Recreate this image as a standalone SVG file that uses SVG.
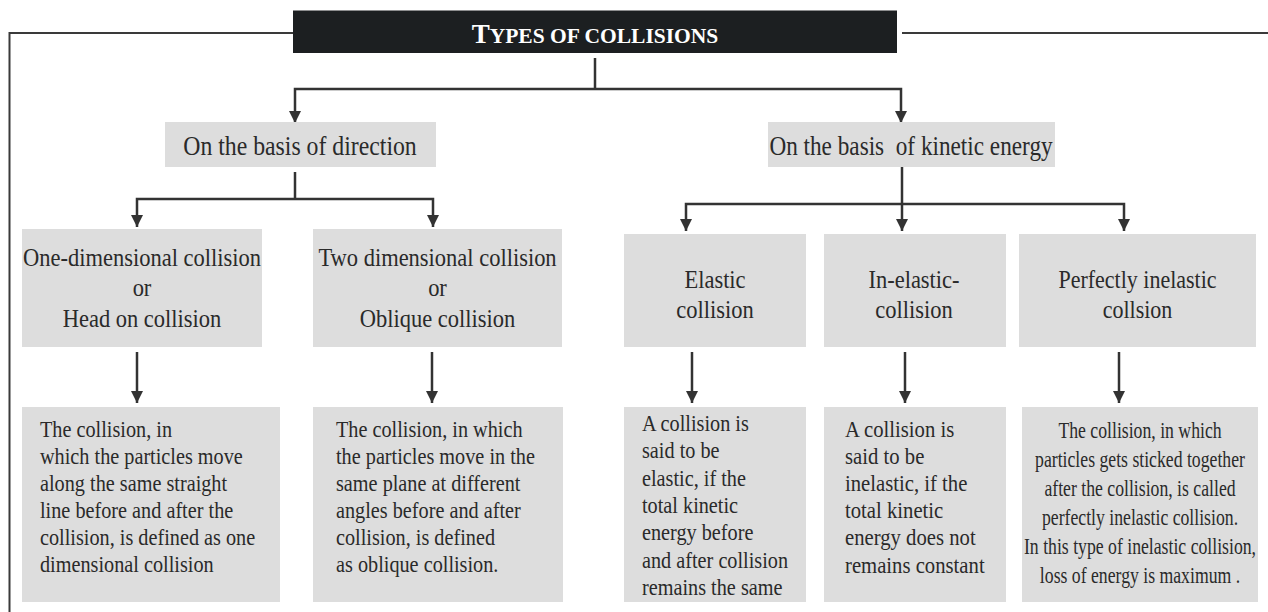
<svg xmlns="http://www.w3.org/2000/svg" width="1268" height="612" viewBox="0 0 1268 612">
  <style>
    .box { fill: #dddddd; }
    .title-box { fill: #1c1f21; }
    .ln { fill: none; stroke: #333333; stroke-width: 2.5; }
    .frame { fill: none; stroke: #3a3a3a; stroke-width: 2; }
    .t { font-family: "Liberation Serif", "Times New Roman", serif; fill: #2a2a2a; }
    .hd { font-size: 27px; }
    .sub { font-size: 25px; }
    .body { font-size: 23px; }
    .mid { text-anchor: middle; }
    .title { font-family: "Liberation Serif", "Times New Roman", serif; font-weight: bold; fill: #ffffff; }
  </style>
  <defs>
    <marker id="ah" viewBox="0 0 12 12" refX="12" refY="6" markerWidth="12" markerHeight="12" markerUnits="userSpaceOnUse" orient="auto">
      <path d="M0,0 L12,6 L0,12 z" fill="#333333"/>
    </marker>
  </defs>

  <!-- connectors -->
  <g id="connectors">
    <!-- outer frame lines from the title -->
    <path class="frame" d="M293,33 H9.5 V612"/>
    <path class="frame" d="M902,33 H1268"/>
    <!-- title to the two bases -->
    <path class="ln" d="M595,58 V89"/>
    <path class="ln" d="M595,89 H295 V123" marker-end="url(#ah)"/>
    <path class="ln" d="M595,89 H901 V123" marker-end="url(#ah)"/>
    <!-- direction branch -->
    <path class="ln" d="M295,172 V199"/>
    <path class="ln" d="M295,199 H137 V227" marker-end="url(#ah)"/>
    <path class="ln" d="M295,199 H433 V227" marker-end="url(#ah)"/>
    <!-- kinetic energy branch -->
    <path class="ln" d="M902,163 V231" marker-end="url(#ah)"/>
    <path class="ln" d="M902,204 H686 V231" marker-end="url(#ah)"/>
    <path class="ln" d="M902,204 H1124 V231" marker-end="url(#ah)"/>
    <!-- types to definitions -->
    <path class="ln" d="M137,352 V403" marker-end="url(#ah)"/>
    <path class="ln" d="M432,352 V403" marker-end="url(#ah)"/>
    <path class="ln" d="M692,352 V403" marker-end="url(#ah)"/>
    <path class="ln" d="M905,352 V403" marker-end="url(#ah)"/>
    <path class="ln" d="M1119,352 V403" marker-end="url(#ah)"/>
  </g>

  <!-- title -->
  <g id="title">
    <rect class="title-box" x="293" y="10.5" width="604" height="42.5"/>
    <text class="title" x="595" y="43" text-anchor="middle"><tspan font-size="27">T</tspan><tspan font-size="21.5">YPES OF COLLISIONS</tspan></text>
  </g>

  <!-- first level -->
  <g id="basis-direction">
    <rect class="box" x="165" y="122" width="271" height="45"/>
    <g transform="translate(300,0) scale(0.88,1)">
      <text class="t hd mid" x="0" y="155">On the basis of direction</text>
    </g>
  </g>
  <g id="basis-kinetic">
    <rect class="box" x="768" y="122" width="287" height="45"/>
    <g transform="translate(911,0) scale(0.86,1)">
      <text class="t hd mid" x="0" y="155" style="white-space:pre">On the basis  of kinetic energy</text>
    </g>
  </g>

  <!-- second level -->
  <g id="one-dimensional">
    <rect class="box" x="22" y="229" width="240" height="118"/>
    <g transform="translate(142,0) scale(0.9,1)">
      <text class="t sub mid" x="0" y="266">One-dimensional collision</text>
      <text class="t sub mid" x="0" y="296">or</text>
      <text class="t sub mid" x="0" y="327">Head on collision</text>
    </g>
  </g>
  <g id="two-dimensional">
    <rect class="box" x="313" y="229" width="249" height="118"/>
    <g transform="translate(437.5,0) scale(0.9,1)">
      <text class="t sub mid" x="0" y="266">Two dimensional collision</text>
      <text class="t sub mid" x="0" y="296">or</text>
      <text class="t sub mid" x="0" y="327">Oblique collision</text>
    </g>
  </g>
  <g id="elastic">
    <rect class="box" x="624" y="234" width="182" height="113"/>
    <g transform="translate(715,0) scale(0.9,1)">
      <text class="t sub mid" x="0" y="288">Elastic</text>
      <text class="t sub mid" x="0" y="318">collision</text>
    </g>
  </g>
  <g id="inelastic">
    <rect class="box" x="824" y="234" width="182" height="113"/>
    <g transform="translate(914,0) scale(0.9,1)">
      <text class="t sub mid" x="0" y="288">In-elastic-</text>
      <text class="t sub mid" x="0" y="318">collision</text>
    </g>
  </g>
  <g id="perfectly-inelastic">
    <rect class="box" x="1019" y="234" width="237" height="113"/>
    <g transform="translate(1137.5,0) scale(0.88,1)">
      <text class="t sub mid" x="0" y="288">Perfectly inelastic</text>
      <text class="t sub mid" x="0" y="318">collsion</text>
    </g>
  </g>

  <!-- definitions -->
  <g id="def-one-dimensional">
    <rect class="box" x="22" y="407" width="258" height="195"/>
    <g transform="translate(40,0) scale(0.88,1)">
      <text class="t body" x="0" y="437">The collision, in</text>
      <text class="t body" x="0" y="464">which the particles move</text>
      <text class="t body" x="0" y="491">along the same straight</text>
      <text class="t body" x="0" y="518">line before and after the</text>
      <text class="t body" x="0" y="545">collision, is defined as one</text>
      <text class="t body" x="0" y="572">dimensional collision</text>
    </g>
  </g>
  <g id="def-two-dimensional">
    <rect class="box" x="313" y="407" width="250" height="195"/>
    <g transform="translate(336,0) scale(0.88,1)">
      <text class="t body" x="0" y="437">The collision, in which</text>
      <text class="t body" x="0" y="464">the particles move in the</text>
      <text class="t body" x="0" y="491">same plane at different</text>
      <text class="t body" x="0" y="518">angles before and after</text>
      <text class="t body" x="0" y="545">collision, is defined</text>
      <text class="t body" x="0" y="572">as oblique collision.</text>
    </g>
  </g>
  <g id="def-elastic">
    <rect class="box" x="624" y="407" width="182" height="195"/>
    <g transform="translate(642,0) scale(0.88,1)">
      <text class="t body" x="0" y="431">A collision is</text>
      <text class="t body" x="0" y="458">said to be</text>
      <text class="t body" x="0" y="486">elastic, if the</text>
      <text class="t body" x="0" y="513">total kinetic</text>
      <text class="t body" x="0" y="540">energy before</text>
      <text class="t body" x="0" y="568">and after collision</text>
      <text class="t body" x="0" y="595">remains the same</text>
    </g>
  </g>
  <g id="def-inelastic">
    <rect class="box" x="824" y="407" width="182" height="195"/>
    <g transform="translate(845,0) scale(0.9,1)">
      <text class="t body" x="0" y="437">A collision is</text>
      <text class="t body" x="0" y="464">said to be</text>
      <text class="t body" x="0" y="491">inelastic, if the</text>
      <text class="t body" x="0" y="518">total kinetic</text>
      <text class="t body" x="0" y="545">energy does not</text>
      <text class="t body" x="0" y="573">remains constant</text>
    </g>
  </g>
  <g id="def-perfectly-inelastic">
    <rect class="box" x="1022" y="407" width="236" height="195"/>
    <g transform="translate(1140,0) scale(0.77,1)">
      <text class="t body mid" x="0" y="438">The collision, in which</text>
      <text class="t body mid" x="0" y="467">particles gets sticked together</text>
      <text class="t body mid" x="0" y="496">after the collision, is called</text>
      <text class="t body mid" x="0" y="525">perfectly inelastic collision.</text>
      <text class="t body mid" x="0" y="554">In this type of inelastic collision,</text>
      <text class="t body mid" x="0" y="583">loss of energy is maximum .</text>
    </g>
  </g>
</svg>
